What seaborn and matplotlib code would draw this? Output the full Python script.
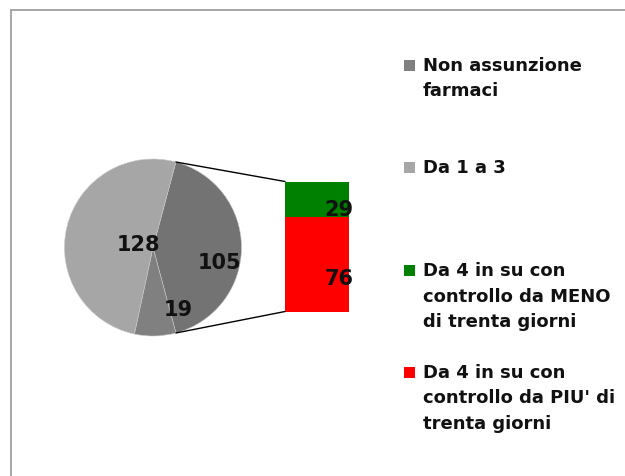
import matplotlib
matplotlib.use("Agg")
import matplotlib.pyplot as plt
import seaborn as sns
import numpy as np
import pandas as pd
from matplotlib.patches import ConnectionPatch, Rectangle
from matplotlib.lines import Line2D

# ---------------- data ----------------
pie_labels = ["Da 4 in su (altro)", "Non assunzione farmaci", "Da 1 a 3"]
pie_values = [105, 19, 128]
bar_labels = ["Da 4 in su con controllo da MENO di trenta giorni",
              "Da 4 in su con controllo da PIU' di trenta giorni"]
bar_values = [29, 76]
legend_texts = ["Non assunzione\nfarmaci",
                "Da 1 a 3",
                "Da 4 in su con\ncontrollo da MENO\ndi trenta giorni",
                "Da 4 in su con\ncontrollo da PIU' di\ntrenta giorni"]

pie_colors = ["#737373", "#808080", "#a6a6a6"]
legend_colors = ["#808080", "#a6a6a6", "#008000", "#ff0000"]
bar_colors = ["#008000", "#ff0000"]

sns.set_theme(style="white")
plt.rcParams["font.family"] = ["DejaVu Sans"]

W, H = 625, 477
fig = plt.figure(figsize=(W / 100, H / 100), dpi=100)
fig.patch.set_facecolor("white")

def fx(x):
    return x / W

def fy(y):
    return 1 - y / H

# ---------------- pie ----------------
cx, cy, r = 153, 248.5, 88.5
ax_pie = fig.add_axes([fx(cx - r), fy(cy + r), 2 * r / W, 2 * r / H])
start = pie_values[0] / sum(pie_values) * 360 / 2
wedges, _ = ax_pie.pie(pie_values, colors=pie_colors, startangle=start,
                       counterclock=False, radius=1,
                       wedgeprops=dict(edgecolor="#c8c8c8", linewidth=0.4))
ax_pie.set_xlim(-1, 1)
ax_pie.set_ylim(-1, 1)
ax_pie.set_aspect("equal")
ax_pie.axis("off")

label_pos = [(0.75, -0.16), (0.29, -0.70), (-0.17, 0.04)]
for v, (lx, ly) in zip(pie_values, label_pos):
    ax_pie.text(lx, ly, str(v), ha="center", va="center",
                fontsize=15, fontweight="bold", color="#111111")

# ---------------- bar ----------------
bx0, bx1, by_top, by_bot = 285, 349, 182.5, 312.5
ax_bar = fig.add_axes([fx(bx0), fy(by_bot), (bx1 - bx0) / W, (by_bot - by_top) / H])
total = sum(bar_values)
df_top = pd.DataFrame({"g": ["x"], "v": [total]})
df_bot = pd.DataFrame({"g": ["x"], "v": [bar_values[1]]})
sns.barplot(data=df_top, x="g", y="v", color=bar_colors[0], width=1.0,
            saturation=1, ax=ax_bar, linewidth=0)
sns.barplot(data=df_bot, x="g", y="v", color=bar_colors[1], width=1.0,
            saturation=1, ax=ax_bar, linewidth=0)
ax_bar.set_xlim(-0.5, 0.5)
ax_bar.set_ylim(0, total)
ax_bar.axis("off")

ax_bar.text(0.34, total - bar_values[0] / 2 - 7.7, str(bar_values[0]),
            ha="center", va="center", fontsize=15, fontweight="bold", color="#111111")
ax_bar.text(0.34, bar_values[1] / 2 - 11, str(bar_values[1]),
            ha="center", va="center", fontsize=15, fontweight="bold", color="#111111")

# ---------------- connectors ----------------
theta1 = np.deg2rad(start)
theta2 = np.deg2rad(start - pie_values[0] / sum(pie_values) * 360)
for th, yb in [(theta1, total), (theta2, 0)]:
    con = ConnectionPatch(xyA=(np.cos(th), np.sin(th)), coordsA=ax_pie.transData,
                          xyB=(-0.5, yb), coordsB=ax_bar.transData,
                          color="black", linewidth=1.0)
    fig.add_artist(con)

# ---------------- legend ----------------
line_h = 25.5
entries_y = [66, 168, 271, 373]
for txt, col, y0 in zip(legend_texts, legend_colors, entries_y):
    fig.add_artist(Rectangle((fx(404), fy(y0 + 6)), 11 / W, 11 / H,
                             transform=fig.transFigure, facecolor=col,
                             edgecolor="none"))
    for i, line in enumerate(txt.split("\n")):
        fig.text(fx(423), fy(y0 + i * line_h), line, ha="left", va="center",
                 fontsize=13, fontweight="bold", color="#111111")

# ---------------- frame ----------------
fig.add_artist(Line2D([fx(10.5), 1], [fy(11), fy(11)], transform=fig.transFigure,
                      color="#a0a0a0", linewidth=1.3))
fig.add_artist(Line2D([fx(10.5), fx(10.5)], [fy(11), 0], transform=fig.transFigure,
                      color="#a0a0a0", linewidth=1.3))

fig.savefig("out.png", dpi=100)
